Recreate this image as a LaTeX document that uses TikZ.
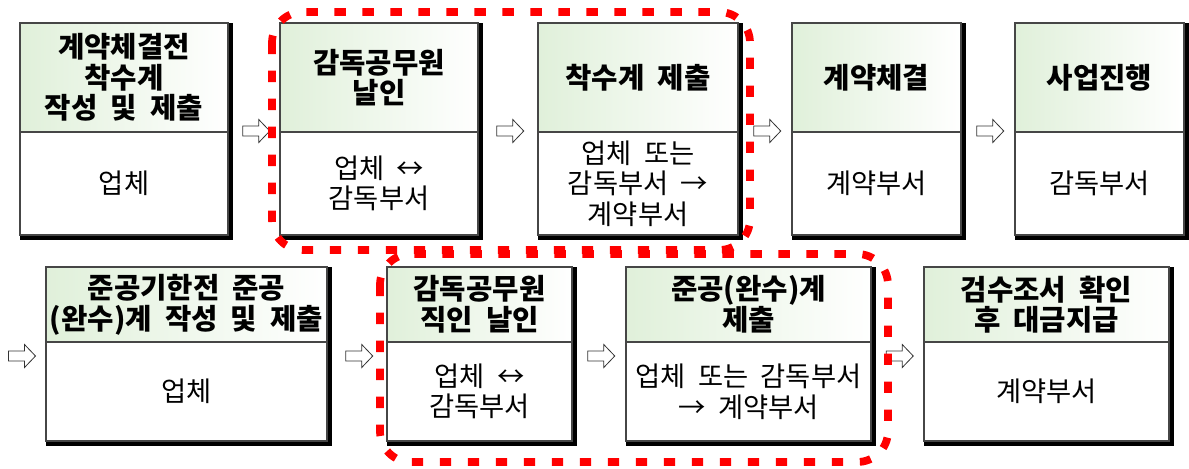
\documentclass[tikz,border=0pt]{standalone}
\usepackage{fontspec}
\setmainfont{Noto Sans CJK KR}[WordSpace=2]
\usetikzlibrary{calc}
\definecolor{hdrgreen}{RGB}{224,240,218}
\definecolor{boxgray}{RGB}{70,70,70}
\definecolor{markred}{RGB}{255,0,0}
\tikzset{
  hdrtext/.style={font=\fontsize{21.5}{23}\selectfont\bfseries, align=center, inner sep=0pt},
  bodytext/.style={font=\fontsize{20.5}{23}\selectfont, align=center, inner sep=0pt},
  boxline/.style={draw=boxgray, line width=0.8pt},
  hollowarrow/.style={draw=black!80, fill=white, line width=0.6pt, line join=miter},
  redmark/.style={draw=markred, line width=5.8pt, dash pattern=on 8.5pt off 12.5pt, rounded corners=23pt}
}
% #1 name, #2 x1, #3 y1, #4 ydiv, #5 x2, #6 y2, #7 header, #8 body, #9 arrow height
\newcommand\flowbox[9]{%
  \fill[black] (#2,#3) rectangle (#5+4.5,#6+5);
  \shade[left color=hdrgreen, right color=white, boxline] (#2,#3) rectangle (#5,#4);
  \filldraw[fill=white, boxline] (#2,#4) rectangle (#5,#6);
  \node[hdrtext] (#1h) at ({(#2+#5)/2},{(#3+#4)/2}) {#7};
  \node[bodytext] (#1b) at ({(#2+#5)/2},{(#4+#6)/2}) {#8};
  \coordinate (#1W) at (#2,#9);
  \coordinate (#1E) at (#5+4.5,#9);
}
% #1 name, #2 left item, #3 right item
\newcommand\blockarrow[3]{%
  \coordinate (#1) at ($(#2)!0.5!(#3)$);
  \draw[hollowarrow] ($(#1)+(-13.5,-5)$) -- ++(16,0) -- ++(0,-6.5) -- ++(11,11.5)
    -- ++(-11,11.5) -- ++(0,-6.5) -- ++(-16,0) -- cycle;
}
\begin{document}
\begin{tikzpicture}[x=0.75pt, y=-0.75pt]
\useasboundingbox (0,0) rectangle (1189,468);
% row 1
\flowbox{b1}{20}{23}{132}{228}{235}{계약체결전\\착수계\\작성 및 제출}{업체}{131}
\flowbox{b2}{280}{23}{132}{478}{235}{감독공무원\\날인}{업체 ↔\\감독부서}{131}
\flowbox{b3}{538}{23}{132}{738}{235}{착수계 제출}{업체 또는\\감독부서 →\\계약부서}{131}
\flowbox{b4}{792}{23}{132}{961}{235}{계약체결}{계약부서}{131}
\flowbox{b5}{1015}{23}{132}{1184}{235}{사업진행}{감독부서}{131}
% row 2
\flowbox{b6}{46}{267}{342}{327}{441}{준공기한전 준공\\(완수)계 작성 및 제출}{업체}{356}
\flowbox{b7}{387}{267}{342}{572}{441}{감독공무원\\직인 날인}{업체 ↔\\감독부서}{356}
\flowbox{b8}{626}{267}{342}{871}{441}{준공(완수)계\\제출}{업체 또는 감독부서\\→ 계약부서}{356}
\flowbox{b9}{924}{267}{342}{1169}{441}{검수조서 확인\\후 대금지급}{계약부서}{356}
\coordinate (rowtwostart) at (-2,356);
% arrows
\blockarrow{a1}{b1E}{b2W}
\blockarrow{a2}{b2E}{b3W}
\blockarrow{a3}{b3E}{b4W}
\blockarrow{a4}{b4E}{b5W}
\blockarrow{a5}{rowtwostart}{b6W}
\blockarrow{a6}{b6E}{b7W}
\blockarrow{a7}{b7E}{b8W}
\blockarrow{a8}{b8E}{b9W}
% red dotted outlines
\draw[redmark] (272,12) rectangle (750,250);
\draw[redmark] (380,254) rectangle (888,462);
\end{tikzpicture}
\end{document}
